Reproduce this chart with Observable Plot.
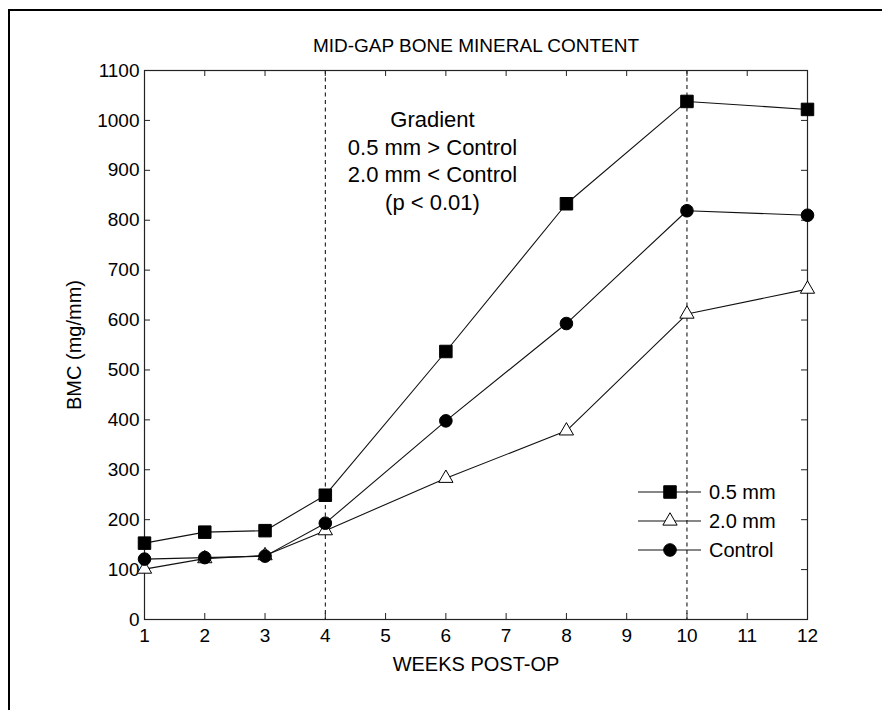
<!DOCTYPE html>
<html>
<head>
<meta charset="utf-8">
<script src="https://cdn.jsdelivr.net/npm/d3@7"></script>
<script src="https://cdn.jsdelivr.net/npm/@observablehq/plot@0.6"></script>
<style>
  body { margin: 0; background: #fff; }
  #chart { position: relative; width: 882px; height: 710px; overflow: hidden; background: #fff; }
  #chart svg { position: absolute; left: 0; top: 0; }
  #border { position: absolute; left: 8px; top: 9px; width: 900px; height: 720px;
            border-top: 2px solid #000; border-left: 2px solid #000; }
</style>
</head>
<body>
<div id="chart"><div id="border"></div></div>
<script>
// Mid-gap bone mineral content (mg/mm) by week after surgery
const weeks = [1, 2, 3, 4, 6, 8, 10, 12];
const bmc05 = [153, 175, 178, 249, 537, 833, 1038, 1022];
const bmc20 = [101, 122, 128, 178, 283, 378, 612, 662];
const bmcControl = [121, 124, 127, 193, 398, 593, 819, 810];

const seriesNames = ["0.5 mm", "2.0 mm", "Control"];
const seriesValues = [bmc05, bmc20, bmcControl];
const seriesSymbols = ["square", "triangle", "circle"];
const seriesFills = ["#000", "#fff", "#000"];
const seriesRadii = [7.05, 5.3, 6.3];

const xTicks = [1, 2, 3, 4, 5, 6, 7, 8, 9, 10, 11, 12];
const yTicks = [0, 100, 200, 300, 400, 500, 600, 700, 800, 900, 1000, 1100];
const markedWeeks = [4, 10];

const title = "MID-GAP BONE MINERAL CONTENT";
const xLabel = "WEEKS POST-OP";
const yLabel = "BMC (mg/mm)";
const note = "Gradient\n0.5 mm > Control\n2.0 mm < Control\n(p < 0.01)";

const FONT = "'Liberation Sans', Arial, Helvetica, sans-serif";
const W = 882, H = 710;
const mL = 144, mR = 75, mT = 70, mB = 91;
const innerW = W - mL - mR, innerH = H - mT - mB;
const tickLen = 6;

const rows = seriesNames.flatMap((name, i) =>
  weeks.map((w, j) => ({series: name, week: w, bmc: seriesValues[i][j]})));

const dotMarks = seriesNames.map((name, i) =>
  Plot.dot(rows.filter(d => d.series === name), {
    x: "week", y: "bmc",
    symbol: seriesSymbols[i], r: seriesRadii[i],
    fill: seriesFills[i], stroke: "#000", strokeWidth: 1
  }));

const svg = Plot.plot({
  width: W, height: H,
  marginLeft: mL, marginRight: mR, marginTop: mT, marginBottom: mB,
  style: {fontFamily: FONT, fontSize: "19px", color: "#000", background: "transparent", overflow: "visible"},
  x: {domain: [1, 12]},
  y: {domain: [0, 1100]},
  marks: [
    Plot.ruleX(markedWeeks, {x: d => d, stroke: "#000", strokeWidth: 1, strokeDasharray: "4,3.5"}),
    Plot.frame({stroke: "#222", strokeWidth: 1.2}),
    // inward ticks on all four sides
    Plot.ruleX(xTicks, {x: d => d, insetTop: innerH - tickLen, stroke: "#222"}),
    Plot.ruleX(xTicks, {x: d => d, insetBottom: innerH - tickLen, stroke: "#222"}),
    Plot.ruleY(yTicks, {y: d => d, insetRight: innerW - tickLen, stroke: "#222"}),
    Plot.ruleY(yTicks, {y: d => d, insetLeft: innerW - tickLen, stroke: "#222"}),
    Plot.axisX(xTicks, {anchor: "bottom", tickSize: 0, tickPadding: 9, label: null, tickFormat: d => String(d)}),
    Plot.axisY(yTicks, {anchor: "left", tickSize: 0, tickPadding: 5, label: null, tickFormat: d => String(d)}),
    Plot.line(rows, {x: "week", y: "bmc", z: "series", stroke: "#111", strokeWidth: 1.1}),
    ...dotMarks,
    Plot.text([title], {text: d => d, frameAnchor: "top", lineAnchor: "middle", dy: -25, fontSize: 19}),
    Plot.text([xLabel], {text: d => d, frameAnchor: "bottom", lineAnchor: "middle", dy: 45, fontSize: 20}),
    Plot.text([yLabel], {text: d => d, frameAnchor: "left", textAnchor: "middle", lineAnchor: "middle",
      dx: -70, rotate: -90, fontSize: 20}),
    Plot.text([note], {text: d => d, frameAnchor: "top-left", dx: 288, dy: 37,
      lineAnchor: "top", textAnchor: "middle", lineHeight: 1.25, fontSize: 22})
  ]
});

// Legend inside the lower-right of the plot area
const legendLineX1 = W - mR - 169, legendLineX2 = W - mR - 106;
const legendMarkX = W - mR - 137, legendTextX = W - mR - 98;
const legendTop = 492, legendStep = 29;
const lg = d3.select(svg).append("g")
  .attr("font-family", FONT).attr("font-size", 20).attr("text-anchor", "start");
seriesNames.forEach((name, i) => {
  const cy = legendTop + i * legendStep;
  lg.append("line").attr("x1", legendLineX1).attr("x2", legendLineX2)
    .attr("y1", cy).attr("y2", cy).attr("stroke", "#111").attr("stroke-width", 1.1);
  const symType = {square: d3.symbolSquare, triangle: d3.symbolTriangle, circle: d3.symbolCircle}[seriesSymbols[i]];
  lg.append("path")
    .attr("d", d3.symbol(symType, Math.PI * seriesRadii[i] ** 2)())
    .attr("transform", `translate(${legendMarkX},${cy})`)
    .attr("fill", seriesFills[i]).attr("stroke", "#000").attr("stroke-width", 1);
  lg.append("text").attr("x", legendTextX).attr("y", cy).attr("dy", "0.35em")
    .attr("fill", "#000").text(name);
});

document.getElementById("chart").appendChild(svg);
</script>
</body>
</html>
